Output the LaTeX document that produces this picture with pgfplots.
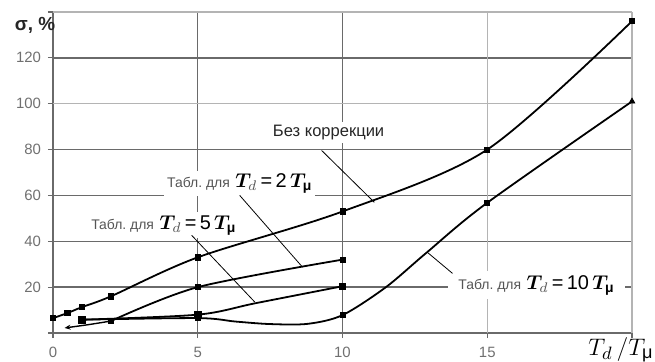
\documentclass[border=0pt]{standalone}
\usepackage{fontspec}
\setmainfont{Liberation Sans}
\usepackage{amsmath}
\usepackage{bm}
\usepackage{pgfplots}
\pgfplotsset{compat=1.18}
\usetikzlibrary{arrows.meta}
\definecolor{gridc}{HTML}{6A6A6A}
\definecolor{gridl}{HTML}{B4B4B4}
\definecolor{tickc}{HTML}{707070}
\definecolor{labc}{HTML}{555555}
\newcommand\lab[1]{{\fontsize{7}{8}\selectfont\color{labc}Табл.\ для} {\fontsize{10}{12}\selectfont $\bm{T}_{\color{labc}d}$\,=\,#1\,$\bm{T}_{\text{\bfseries μ}}$}}
\begin{document}
\begin{tikzpicture}
\begin{axis}[name=ax, scale only axis, width=289.5bp, height=160.5bp,
  xmin=0, xmax=20, ymin=0, ymax=140,
  axis x line=bottom, axis y line=left,
  axis line style={-, gridc, line width=0.7pt},
  xtick={0,5,10}, xticklabels={0,5,10},
  extra x ticks={15,20}, extra x tick labels={15,{}},
  ytick={0,20,...,120}, yticklabels={{},20,40,60,80,{},120},
  extra y ticks={100,140}, extra y tick labels={100,{}},
  grid=major, grid style={gridc, line width=0.7pt},
  extra tick style={grid style={gridl, line width=0.7pt}},
  tick style={gridc, line width=0.6pt}, tick align=outside, major tick length=2.5bp,
  ticklabel style={font=\fontsize{7.5}{9}\selectfont, text=tickc},
  xticklabel style={yshift=-1bp},
  /pgf/number format/assume math mode=true,
  clip=false]
\coordinate (O) at (axis cs:0,0);
% labels
\node[fill=white, inner sep=1.5bp, font=\fontsize{8.3}{10}\selectfont, text=black!85] at (axis cs:9.52,87.4) {Без коррекции};
\node[fill=white, inner sep=1.5bp] at (axis cs:6.45,65.2) {\lab{2}};
\node[fill=white, inner sep=1.5bp] at (axis cs:3.83,47) {\lab{5}};
\node[fill=white, inner xsep=5bp, inner ysep=2bp] at (axis cs:16.7,20.9) {\lab{10}};
\draw[black, line width=0.4pt] (axis cs:9.28,79.6) -- (axis cs:11.1,57);
\draw[black, line width=0.4pt] (axis cs:6.45,60) -- (axis cs:8.62,28.7);
\draw[black, line width=0.4pt] (axis cs:4.79,42.6) -- (axis cs:6.97,13.5);
\draw[black, line width=0.4pt] (axis cs:13.8,26) -- (axis cs:12.93,35.2);
% curves
\addplot[black, line width=0.9pt, smooth] coordinates {(0,6.5)(0.5,8.7)(1,11.3)(2,16)(5,33)(10,53)(15,80)(20,136)};
\addplot[black, line width=0.9pt, smooth] coordinates {(2,5.2)(5,20)(10,32)};
\addplot[black, line width=0.7pt, smooth, -{Stealth[length=3bp,width=2.5bp]}] coordinates {(2,5.2)(1.2,3.6)(0.4,2.2)};
\addplot[black, line width=0.9pt, smooth] coordinates {(1,5.8)(5,8)(7,13)(10,20.4)};
\addplot[black, line width=0.9pt, smooth] coordinates {(1,5.8)(5,6.5)(6.3,5)(7.5,3.9)(8.8,4)(10,7.8)(11.5,20)(12.9,35)(15,56.8)(20,101)};
% markers
\addplot[only marks, mark=square*, mark size=1.3bp, black] coordinates {(0,6.5)(0.5,8.7)(1,11.3)(2,16)(5,33)(10,53)(15,80)(20,136)};
\addplot[only marks, mark=square*, mark size=1.3bp, black] coordinates {(2,5.2)(5,20)(10,32)};
\addplot[only marks, mark=square*, mark size=1.6bp, black] coordinates {(1,5.8)(5,8)(10,20.4)};
\addplot[only marks, mark=square*, mark size=1.3bp, black] coordinates {(5,6.5)(10,7.8)(15,56.8)};
\addplot[only marks, mark=triangle*, mark size=1.6bp, black] coordinates {(20,101)};
% axis captions
\node[font=\bfseries\fontsize{9.5}{11}\selectfont, inner sep=0pt, text=black!85] at (axis cs:-0.62,134) {σ, \%};
\node[anchor=north, inner sep=0pt, xshift=-5.5bp, yshift=-2bp] at (axis cs:20,0) {\fontsize{13}{15}\selectfont $T_{d}\,/T_{\text{μ}}$};
\end{axis}
\pgfresetboundingbox
\path (O) ++(-26.5bp,-14.5bp) rectangle ++(327.5bp,181bp);
\end{tikzpicture}
\end{document}
